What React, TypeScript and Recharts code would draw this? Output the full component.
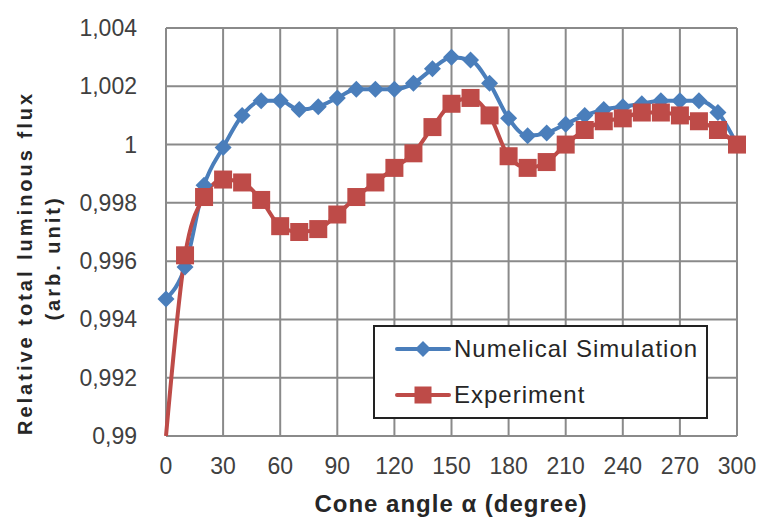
import { CartesianGrid, Line, LineChart, XAxis, YAxis } from "recharts";

const angles = [
  0, 10, 20, 30, 40, 50, 60, 70, 80, 90, 100, 110, 120, 130, 140, 150, 160,
  170, 180, 190, 200, 210, 220, 230, 240, 250, 260, 270, 280, 290, 300,
];

const simulation = [
  0.9947, 0.9958, 0.9986, 0.9999, 1.001, 1.0015, 1.0015, 1.0012, 1.0013,
  1.0016, 1.0019, 1.0019, 1.0019, 1.0021, 1.0026, 1.003, 1.0029, 1.0021,
  1.0009, 1.0003, 1.0004, 1.0007, 1.001, 1.0012, 1.0013, 1.0014, 1.0015,
  1.0015, 1.0015, 1.0011, 1.0,
];

const experiment = [
  0.99, 0.9962, 0.9982, 0.9988, 0.9987, 0.9981, 0.9972, 0.997, 0.9971,
  0.9976, 0.9982, 0.9987, 0.9992, 0.9997, 1.0006, 1.0014, 1.0016, 1.001,
  0.9996, 0.9992, 0.9994, 1.0, 1.0005, 1.0008, 1.0009, 1.0011, 1.0011, 1.001,
  1.0008, 1.0005, 1.0,
];

const xTicks = [0, 30, 60, 90, 120, 150, 180, 210, 240, 270, 300];
const yTicks = [0.99, 0.992, 0.994, 0.996, 0.998, 1.0, 1.002, 1.004];

const data = angles.map((angle, i) => ({
  angle,
  sim: simulation[i],
  exp: experiment[i],
}));

const BLUE = "#4A7EBB";
const RED = "#BE4B48";
const FONT = "'Liberation Sans', Arial, sans-serif";

const fmt = (v: number) => String(Number(v.toFixed(3))).replace(".", ",");

const Diamond = ({ cx, cy, r = 8.5 }: { cx: number; cy: number; r?: number }) => (
  <path
    d={`M${cx},${cy - r}L${cx + r},${cy}L${cx},${cy + r}L${cx - r},${cy}Z`}
    fill={BLUE}
  />
);

const Square = ({ cx, cy, s = 18 }: { cx: number; cy: number; s?: number }) => (
  <rect x={cx - s / 2} y={cy - s / 2} width={s} height={s} fill={RED} />
);

const XTick = (props: any) => (
  <text
    x={props.x}
    y={474}
    textAnchor="middle"
    fill="#404040"
    fontSize={23}
    fontFamily={FONT}
  >
    {fmt(props.payload.value)}
  </text>
);

const YTick = (props: any) => (
  <text
    x={137}
    y={props.y + 8}
    textAnchor="end"
    fill="#404040"
    fontSize={23}
    fontFamily={FONT}
  >
    {fmt(props.payload.value)}
  </text>
);

const LegendIcon = ({ kind }: { kind: "sim" | "exp" }) => (
  <svg width={56} height={24} style={{ display: "block" }}>
    <line
      x1={2}
      y1={12}
      x2={54}
      y2={12}
      stroke={kind === "sim" ? BLUE : RED}
      strokeWidth={4}
      strokeLinecap="round"
    />
    {kind === "sim" ? <Diamond cx={28} cy={12} r={8} /> : <Square cx={28} cy={12} s={17} />}
  </svg>
);

export default function App() {
  return (
    <div
      style={{
        position: "absolute",
        left: 0,
        top: 0,
        width: 766,
        height: 520,
        background: "#fff",
      }}
    >
      <LineChart
        width={766}
        height={520}
        data={data}
        margin={{ top: 28, right: 29, bottom: 0, left: 0 }}
      >
        <CartesianGrid stroke="#8a8a8a" strokeWidth={2} />
        <XAxis
          dataKey="angle"
          type="number"
          domain={[0, 300]}
          ticks={xTicks}
          tick={<XTick />}
          tickLine={false}
          axisLine={false}
          height={84}
          label={{
            content: () => (
              <text
                x={451}
                y={512}
                textAnchor="middle"
                fontSize={24}
                fontWeight="bold"
                letterSpacing={1}
                fill="#262626"
                fontFamily={FONT}
              >
                Cone angle α (degree)
              </text>
            ),
          }}
        />
        <YAxis
          type="number"
          domain={[0.99, 1.004]}
          ticks={yTicks}
          tick={<YTick />}
          tickLine={false}
          axisLine={false}
          width={166}
          allowDataOverflow
          label={{
            content: () => (
              <g fontFamily={FONT} fontWeight="bold" fontSize={20} fill="#262626">
                <text
                  transform="translate(32,263) rotate(-90)"
                  textAnchor="middle"
                  letterSpacing={3}
                >
                  Relative total luminous flux
                </text>
                <text
                  transform="translate(60,258) rotate(-90)"
                  textAnchor="middle"
                  letterSpacing={3}
                >
                  (arb. unit)
                </text>
              </g>
            ),
          }}
        />
        <Line
          type="monotone"
          dataKey="sim"
          stroke={BLUE}
          strokeWidth={4}
          isAnimationActive={false}
          dot={(p: any) => <Diamond key={`s${p.index}`} cx={p.cx} cy={p.cy} />}
          activeDot={false}
        />
        <Line
          type="monotone"
          dataKey="exp"
          stroke={RED}
          strokeWidth={4}
          isAnimationActive={false}
          dot={(p: any) =>
            p.index === 0 ? (
              <g key={`e${p.index}`} />
            ) : (
              <Square key={`e${p.index}`} cx={p.cx} cy={p.cy} />
            )
          }
          activeDot={false}
        />
      </LineChart>
      <div
        style={{
          position: "absolute",
          left: 373,
          top: 325,
          width: 331,
          height: 90,
          border: "2px solid #222",
          background: "#fff",
          fontFamily: FONT,
          fontSize: 24,
          color: "#262626",
          letterSpacing: 1,
        }}
      >
        {[
          { kind: "sim" as const, name: "Numelical Simulation", top: 8 },
          { kind: "exp" as const, name: "Experiment", top: 54 },
        ].map((it) => (
          <div
            key={it.kind}
            style={{
              position: "absolute",
              left: 20,
              top: it.top,
              display: "flex",
              alignItems: "center",
              gap: 3,
              whiteSpace: "nowrap",
            }}
          >
            <LegendIcon kind={it.kind} />
            <span>{it.name}</span>
          </div>
        ))}
      </div>
    </div>
  );
}
